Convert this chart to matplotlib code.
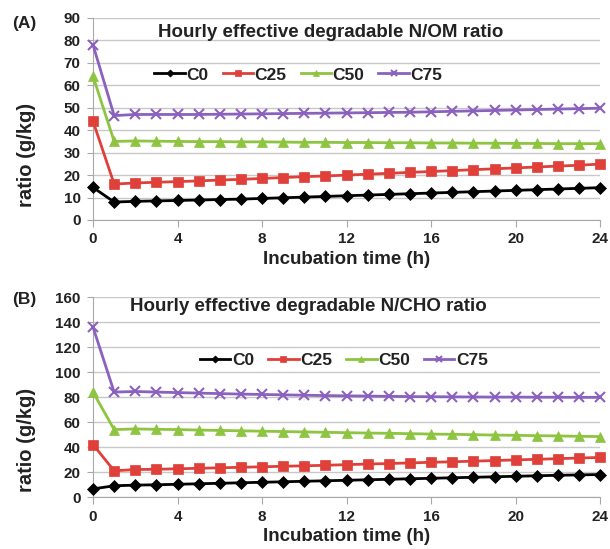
import matplotlib
matplotlib.use("Agg")
import matplotlib.pyplot as plt
import numpy as np

hours = list(range(25))

a_c0 = [14.5, 8, 8.3, 8.5, 8.7, 8.9, 9.1, 9.3, 9.6, 9.9, 10.2, 10.5, 10.8, 11.1, 11.4, 11.7, 12.0, 12.3, 12.6, 12.9, 13.2, 13.5, 13.8, 14.1, 14.4]
a_c25 = [44, 16, 16.5, 16.8, 17.1, 17.4, 17.8, 18.1, 18.5, 18.9, 19.3, 19.6, 20, 20.4, 20.8, 21.2, 21.6, 22, 22.4, 22.8, 23.2, 23.6, 24, 24.4, 24.9]
a_c50 = [64, 35, 35.2, 35.1, 35, 34.9, 34.9, 34.8, 34.8, 34.7, 34.6, 34.6, 34.5, 34.5, 34.4, 34.4, 34.3, 34.3, 34.2, 34.2, 34.1, 34.1, 34, 34, 34]
a_c75 = [78, 46.5, 47, 47, 47, 47, 47.1, 47.2, 47.3, 47.4, 47.5, 47.6, 47.7, 47.8, 47.9, 48, 48.2, 48.4, 48.6, 48.8, 49, 49.2, 49.4, 49.6, 49.8]

b_c0 = [6.5, 9, 9.5, 9.8, 10.2, 10.6, 11, 11.4, 11.8, 12.2, 12.6, 13, 13.4, 13.8, 14.2, 14.6, 15, 15.4, 15.8, 16.2, 16.6, 17, 17.4, 17.7, 18]
b_c25 = [42, 21, 22, 22.2, 22.6, 23, 23.4, 23.8, 24.2, 24.6, 25, 25.4, 25.9, 26.4, 26.8, 27.3, 27.8, 28.2, 28.7, 29.2, 29.7, 30.2, 30.7, 31.2, 31.7]
b_c50 = [84, 54, 54.5, 54.2, 54, 53.6, 53.3, 53, 52.7, 52.4, 52.1, 51.8, 51.5, 51.2, 51, 50.7, 50.4, 50.2, 49.9, 49.6, 49.4, 49.1, 48.9, 48.6, 48.4]
b_c75 = [136, 84, 84.5, 84, 83.6, 83.2, 82.8, 82.4, 82.1, 81.8, 81.5, 81.2, 81, 80.8, 80.6, 80.4, 80.3, 80.2, 80.1, 80, 80, 79.9, 79.9, 79.8, 79.8]

series_names = ["C0", "C25", "C50", "C75"]
x_ticks = [0, 4, 8, 12, 16, 20, 24]

plt.rcParams['font.family'] = ['Liberation Sans', 'DejaVu Sans']
plt.rcParams['font.weight'] = 'bold'

text_color = "#222222"
colors = ["#000000", "#E0403A", "#8DC440", "#8A62BE"]
markers = ["D", "s", "^", "x"]
msizes = [6, 7, 7, 7]

fig = plt.figure(figsize=(6.10, 5.49), dpi=100)

def draw(ax, data, ymax, ystep, title, title_x, title_y, leg_xy, ylab_y, panel, panel_y):
    for vals, name, c, m, ms in zip(data, series_names, colors, markers, msizes):
        ax.plot(hours, vals, color=c, marker=m, markersize=ms, linewidth=2.0,
                markeredgewidth=1.5 if m == "x" else 0.5, label=name,
                markeredgecolor=c, clip_on=False, zorder=3)
    ax.set_xlim(0, 24)
    ax.set_ylim(0, ymax)
    ax.set_yticks(np.arange(0, ymax + 1, ystep))
    ax.set_xticks(x_ticks)
    ax.grid(axis='y', color='#C8C8C8', linewidth=1)
    ax.set_axisbelow(True)
    for s in ['top', 'right']:
        ax.spines[s].set_visible(False)
    ax.spines['left'].set_color('#A8A8A8')
    ax.spines['bottom'].set_color('#A8A8A8')
    ax.tick_params(axis='y', length=4, color='#A8A8A8', labelsize=11, pad=5,
                   labelcolor=text_color)
    ax.tick_params(axis='x', length=5, color='#A8A8A8', labelsize=11, pad=4,
                   labelcolor=text_color)
    for lab in ax.get_xticklabels() + ax.get_yticklabels():
        lab.set_fontweight('bold')
    ax.set_xlabel("Incubation time (h)", fontsize=13.5, fontweight='bold',
                  labelpad=3, color=text_color)
    ax.set_ylabel("ratio (g/kg)", fontsize=14.5, fontweight='bold', color=text_color)
    ax.yaxis.set_label_coords(-0.112, ylab_y)
    ax.text(title_x, title_y, title, transform=ax.transAxes, fontsize=13.5,
            fontweight='bold', va='center', ha='left', color=text_color)
    leg = ax.legend(loc='center', bbox_to_anchor=leg_xy, ncol=4, frameon=False,
                    fontsize=12.5, handlelength=1.75, columnspacing=0.8,
                    handletextpad=0.1, markerscale=0.6)
    for t in leg.get_texts():
        t.set_fontweight('bold')
        t.set_color(text_color)
    fig.text(0.02, panel_y, panel, fontsize=12.5, fontweight='bold', va='center',
             color=text_color)

ax1 = fig.add_axes([0.1525, 0.5993, 0.8315, 0.368])
draw(ax1, [a_c0, a_c25, a_c50, a_c75], 90, 10,
     "Hourly effective degradable N/OM ratio", 0.128, 0.93, (0.405, 0.718), 0.32,
     "(A)", 0.958)

ax2 = fig.add_axes([0.1525, 0.0947, 0.8315, 0.364])
draw(ax2, [b_c0, b_c25, b_c50, b_c75], 160, 20,
     "Hourly effective degradable N/CHO ratio", 0.073, 0.955, (0.495, 0.685), 0.285,
     "(B)", 0.455)

fig.savefig("out.png", dpi=100)
